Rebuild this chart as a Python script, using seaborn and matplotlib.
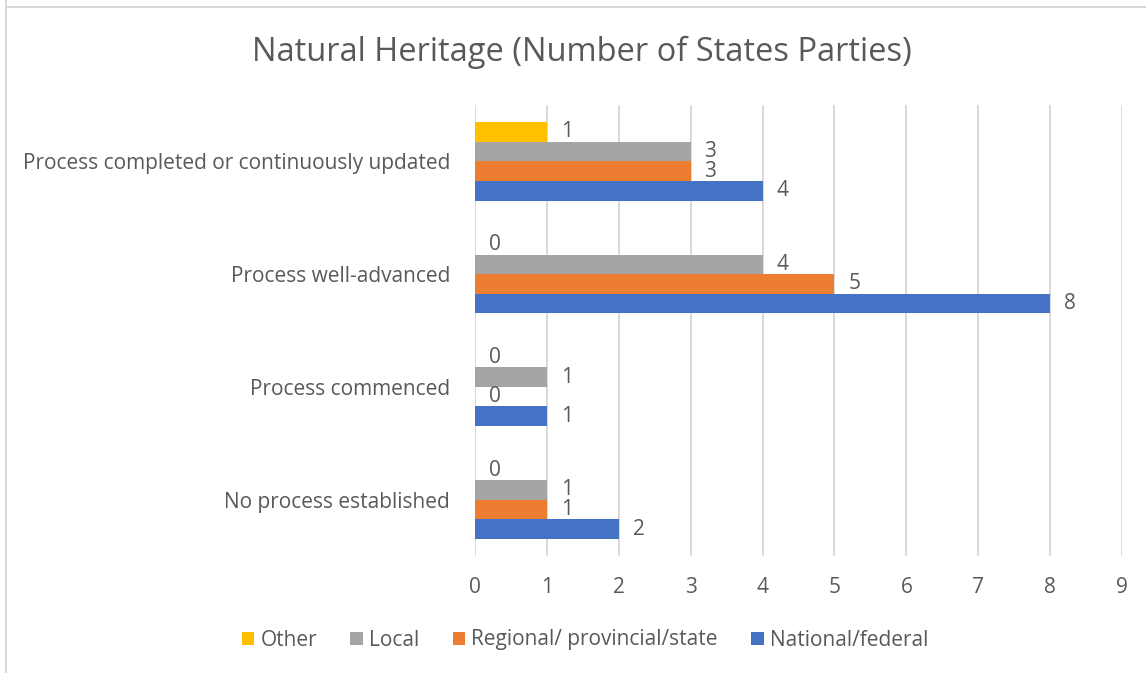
import pandas as pd
import matplotlib.pyplot as plt
import seaborn as sns
from matplotlib.lines import Line2D

categories = ["Process completed or continuously updated", "Process well-advanced",
              "Process commenced", "No process established"]
series = ["Other", "Local", "Regional/ provincial/state", "National/federal"]
other = [1, 0, 0, 0]
local = [3, 4, 1, 1]
regional = [3, 5, 0, 1]
national = [4, 8, 1, 2]
colors = ["#FFC000", "#A5A5A5", "#ED7D31", "#4472C4"]

rows = []
for name, vals in zip(series, [other, local, regional, national]):
    for cat, v in zip(categories, vals):
        rows.append({"Stage": cat, "Level": name, "Count": v})
df = pd.DataFrame(rows)

sns.set_style("white")
plt.rcParams['font.family'] = ['Open Sans', 'DejaVu Sans']
txt = "#595959"

fig = plt.figure(figsize=(11.46, 6.73), dpi=100)
ax = fig.add_axes([475 / 1146, 1 - 556 / 673, (1122 - 475) / 1146, (556 - 105) / 673])

sns.barplot(data=df, y="Stage", x="Count", hue="Level", order=categories,
            hue_order=series, palette=colors, orient="h", width=0.695,
            linewidth=0, saturation=1, ax=ax)

for cont in ax.containers:
    ax.bar_label(cont, padding=10, fontsize=15, color=txt)

ax.set_xlim(0, 9)
ax.set_xticks(range(10))
ax.grid(axis="x", color="#D9D9D9", linewidth=1.4)
ax.set_axisbelow(True)
for s in ax.spines.values():
    s.set_visible(False)
ax.set_xlabel("")
ax.set_ylabel("")
ax.tick_params(axis="x", length=0, pad=15, labelsize=15, labelcolor=txt)
ax.tick_params(axis="y", length=0, pad=18, labelsize=15, labelcolor=txt)

handles, labels = ax.get_legend_handles_labels()
ax.get_legend().remove()
fig.legend(handles, labels, loc="center", bbox_to_anchor=(585 / 1146, 1 - 640 / 673),
           ncol=4, frameon=False, fontsize=15, labelcolor=txt, handlelength=0.6,
           handleheight=0.6, handletextpad=0.3, columnspacing=1.6)

fig.text(582 / 1146, 1 - 52 / 673, "Natural Heritage (Number of States Parties)",
         ha="center", va="center", fontsize=23.5, color=txt)

fig.add_artist(Line2D([6 / 1146, 1], [1 - 6.5 / 673] * 2, color="#D9D9D9", lw=1.5,
                      transform=fig.transFigure))
fig.add_artist(Line2D([6 / 1146] * 2, [0, 1], color="#D9D9D9", lw=1.5,
                      transform=fig.transFigure))

fig.savefig("out.png", dpi=100)
